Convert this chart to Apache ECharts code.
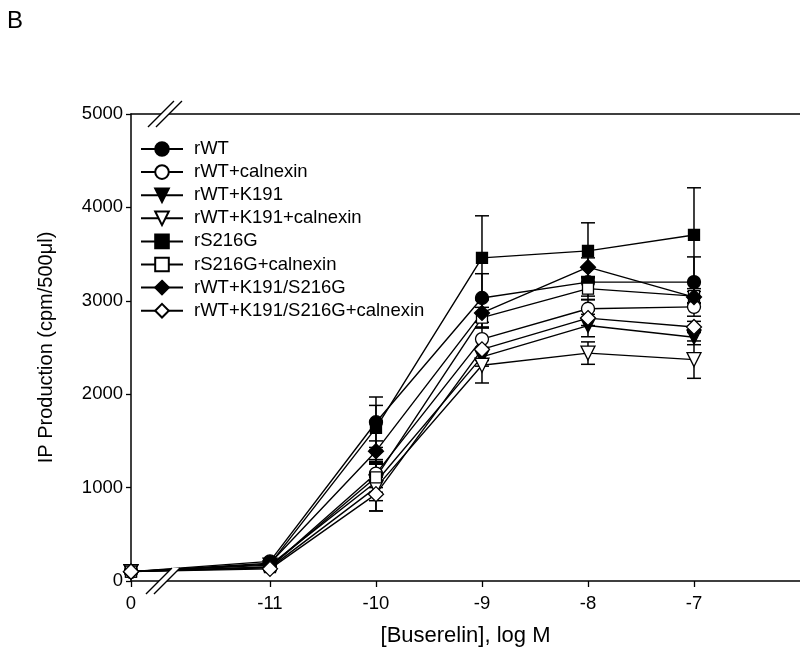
<!DOCTYPE html>
<html><head><meta charset="utf-8">
<script src="https://cdn.jsdelivr.net/npm/echarts@6/dist/echarts.min.js"></script>
<style>html,body{margin:0;padding:0;background:#fff}#c{width:800px;height:652px}</style>
</head><body><div id="c"></div>
<script>
// ---- data ----
const doses = [0, -11, -10, -9, -8, -7];
const xTickLabels = ['0', '-11', '-10', '-9', '-8', '-7'];
const yTicks = [0, 1000, 2000, 3000, 4000, 5000];
const seriesNames = ['rWT', 'rWT+calnexin', 'rWT+K191', 'rWT+K191+calnexin', 'rS216G', 'rS216G+calnexin', 'rWT+K191/S216G', 'rWT+K191/S216G+calnexin'];
const rWT            = [100, 210, 1700, 3030, 3200, 3200];
const rWT_cal        = [100, 150, 1150, 2590, 2915, 2935];
const rWT_K191       = [100, 170, 1060, 2400, 2735, 2610];
const rWT_K191_cal   = [100, 140, 1000, 2310, 2440, 2370];
const rS216G         = [100, 180, 1640, 3460, 3535, 3705];
const rS216G_cal     = [100, 150, 1110, 2820, 3130, 3050];
const rWT_KS         = [100, 190, 1390, 2870, 3360, 3040];
const rWT_KS_cal     = [100, 130, 930, 2480, 2815, 2720];
const err_rWT          = [0, 30, 270, 260, 150, 270];
const err_rWT_cal      = [0, 20, 150, 120, 100, 100];
const err_rWT_K191     = [0, 20, 200, 100, 120, 80];
const err_rWT_K191_cal = [0, 20, 250, 190, 120, 200];
const err_rS216G       = [0, 30, 240, 450, 300, 505];
const err_rS216G_cal   = [0, 20, 160, 110, 120, 80];
const err_rWT_KS       = [0, 30, 110, 150, 100, 60];
const err_rWT_KS_cal   = [0, 20, 180, 120, 80, 60];

const values = [rWT, rWT_cal, rWT_K191, rWT_K191_cal, rS216G, rS216G_cal, rWT_KS, rWT_KS_cal];
const errors = [err_rWT, err_rWT_cal, err_rWT_K191, err_rWT_K191_cal, err_rS216G, err_rS216G_cal, err_rWT_KS, err_rWT_KS_cal];

// ---- layout/style ----
const ZERO_POS = -12.311;   // where dose 0 sits on the broken axis
const BREAK_AT = -12;
const X_MAX = -6;
const FONT = "'Liberation Sans', Arial, sans-serif";
const styles = [
  {symbol: 'circle', fill: '#000', size: 13, rot: 0},
  {symbol: 'circle', fill: '#fff', size: 13, rot: 0},
  {symbol: 'triangle', fill: '#000', size: 14, rot: 180},
  {symbol: 'triangle', fill: '#fff', size: 14, rot: 180},
  {symbol: 'rect', fill: '#000', size: 11, rot: 0},
  {symbol: 'rect', fill: '#fff', size: 11, rot: 0},
  {symbol: 'diamond', fill: '#000', size: 15, rot: 0},
  {symbol: 'diamond', fill: '#fff', size: 15, rot: 0}
];
const pos = d => d === 0 ? ZERO_POS : d;
const tickPositions = doses.map(pos);

const series = [];
values.forEach((vals, i) => {
  const st = styles[i];
  series.push({
    name: seriesNames[i], type: 'line', z: 3,
    data: vals.map((v, k) => [pos(doses[k]), v]),
    symbol: st.symbol, symbolSize: st.size, symbolRotate: st.rot,
    showSymbol: true,
    lineStyle: {color: '#000', width: 1.4},
    itemStyle: {color: st.fill, borderColor: '#000', borderWidth: 1.3},
    emphasis: {disabled: true}
  });
  series.push({
    type: 'custom', z: 2, silent: true,
    data: vals.map((v, k) => [pos(doses[k]), v - errors[i][k], v + errors[i][k], errors[i][k]]),
    renderItem: (params, api) => {
      if (api.value(3) <= 0) return null;
      const x = api.value(0);
      const t = api.coord([x, api.value(2)]);
      const b = api.coord([x, api.value(1)]);
      const w = 7;
      const s = {stroke: '#000', lineWidth: 1.5};
      return {type: 'group', children: [
        {type: 'line', shape: {x1: t[0], y1: t[1], x2: b[0], y2: b[1]}, style: s},
        {type: 'line', shape: {x1: t[0] - w, y1: t[1], x2: t[0] + w, y2: t[1]}, style: s},
        {type: 'line', shape: {x1: b[0] - w, y1: b[1], x2: b[0] + w, y2: b[1]}, style: s}
      ]};
    }
  });
});

const chart = echarts.init(document.getElementById('c'), null, {renderer: 'canvas'});
const option = {
  animation: false,
  backgroundColor: '#fff',
  textStyle: {fontFamily: FONT, color: '#000'},
  title: {text: 'B', left: 2, top: 4, textStyle: {fontFamily: FONT, fontSize: 24, fontWeight: 'normal', color: '#000'}},
  grid: {left: 131, right: 0, top: 114, bottom: 71},
  legend: {
    data: seriesNames, orient: 'vertical', left: 140, top: 139.5, padding: 0,
    itemWidth: 42, itemHeight: 17, itemGap: 4.1,
    textStyle: {fontFamily: FONT, fontSize: 18.5, color: '#000', padding: [0, 0, 0, 6]},
    selectedMode: false
  },
  xAxis: [{
    type: 'value', min: ZERO_POS, max: X_MAX, position: 'bottom',
    name: '[Buserelin], log M', nameLocation: 'middle', nameGap: 44,
    nameTextStyle: {fontFamily: FONT, fontSize: 22, color: '#000'},
    splitLine: {show: false},
    axisLine: {onZero: false, lineStyle: {color: '#000', width: 1.5}},
    axisTick: {show: true, customValues: tickPositions, length: 6, lineStyle: {color: '#000', width: 1.3}},
    axisLabel: {customValues: tickPositions, margin: 13, fontFamily: FONT, fontSize: 18.5, color: '#000',
      formatter: v => { const k = tickPositions.findIndex(p => Math.abs(p - v) < 1e-6); return k >= 0 ? xTickLabels[k] : ''; }}
  }, {
    type: 'value', min: ZERO_POS, max: X_MAX, position: 'top',
    splitLine: {show: false}, axisTick: {show: false}, axisLabel: {show: false},
    axisLine: {show: true, onZero: false, lineStyle: {color: '#000', width: 1.5}}
  }],
  yAxis: {
    type: 'value', min: yTicks[0], max: yTicks[yTicks.length - 1], interval: 1000,
    name: 'IP Production (cpm/500\u03bcl)', nameLocation: 'middle', nameGap: 75,
    nameTextStyle: {fontFamily: FONT, fontSize: 20, color: '#000'},
    splitLine: {show: false},
    axisLine: {show: true, onZero: false, lineStyle: {color: '#000', width: 1.5}},
    axisTick: {show: true, inside: false, length: 5, lineStyle: {color: '#000', width: 1.3}},
    axisLabel: {margin: 8, fontFamily: FONT, fontSize: 18.5, color: '#000', formatter: v => String(v)}
  },
  series: series
};
chart.setOption(option);

// axis-break marks (decoration), positioned through the axes
const bx = chart.convertToPixel({xAxisIndex: 0}, BREAK_AT);
const yb = chart.convertToPixel({yAxisIndex: 0}, yTicks[0]);
const yt = chart.convertToPixel({yAxisIndex: 0}, yTicks[yTicks.length - 1]);
function breakMark(cx, cy, h, g) {
  const ls = {stroke: '#000', lineWidth: 1.3};
  return [
    {type: 'polygon', z: 100, silent: true, shape: {points: [[cx - g - h, cy + h], [cx - g + h, cy - h], [cx + g + h, cy - h], [cx + g - h, cy + h]]}, style: {fill: '#fff'}},
    {type: 'line', z: 101, silent: true, shape: {x1: cx - g - h, y1: cy + h, x2: cx - g + h, y2: cy - h}, style: ls},
    {type: 'line', z: 101, silent: true, shape: {x1: cx + g - h, y1: cy + h, x2: cx + g + h, y2: cy - h}, style: ls}
  ];
}
chart.setOption({graphic: [...breakMark(bx - 1, yb, 13, 4), ...breakMark(bx + 1, yt, 13, 4)]});
</script></body></html>
